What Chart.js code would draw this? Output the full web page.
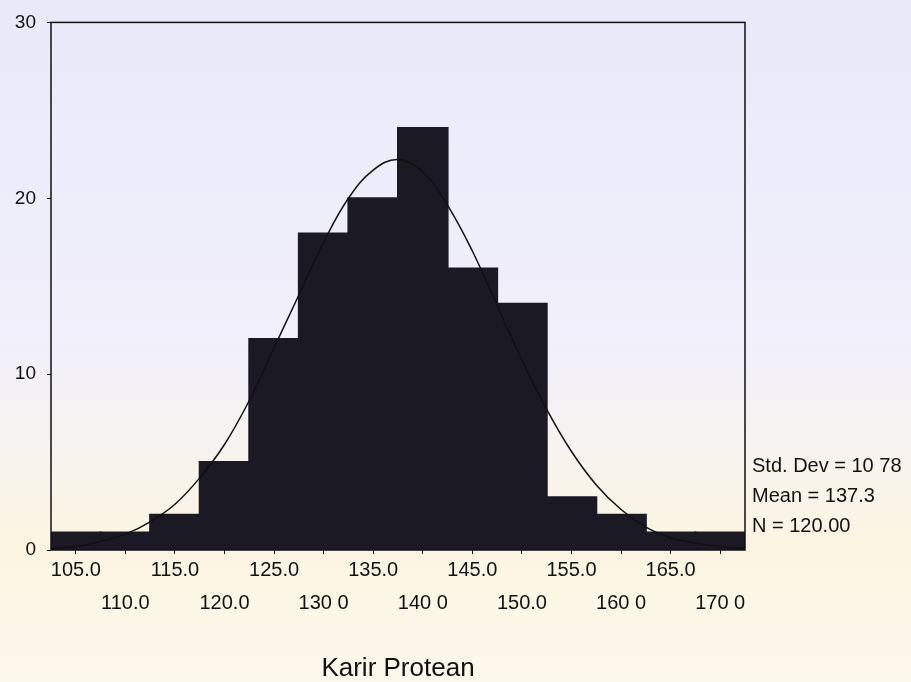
<!DOCTYPE html>
<html>
<head>
<meta charset="utf-8">
<script src="https://cdn.jsdelivr.net/npm/chart.js@4"></script>
<style>
  html, body { margin: 0; padding: 0; background: #fff; }
  #wrap { width: 911px; height: 682px; }
</style>
</head>
<body>
<div id="wrap"><canvas id="hist"></canvas></div>
<script>
// histogram bins (centre of each 5-wide bin) and counts
var binCenters = [105, 110, 115, 120, 125, 130, 135, 140, 145, 150, 155, 160, 165, 170];
var counts = [1, 1, 2, 5, 12, 18, 20, 24, 16, 14, 3, 2, 1, 1];
var tickLabels = ['105.0', '110.0', '115.0', '120.0', '125.0', '130 0', '135.0',
                  '140 0', '145.0', '150.0', '155.0', '160 0', '165.0', '170 0'];

// normal curve
var curveX = [102.5, 105, 107.5, 110, 112.5, 115, 117.5, 120, 122.5, 125, 127.5, 130, 132.5, 135,
              137.5, 140, 142.5, 145, 147.5, 150, 152.5, 155, 157.5, 160, 162.5, 165, 167.5, 170, 172.5];
var curveY = [0.1, 0.2, 0.5, 0.9, 1.6, 2.6, 4.1, 6.0, 8.5, 11.5, 14.5, 17.5, 20.0, 21.6,
              22.2, 21.5, 19.6, 17.0, 13.9, 10.8, 8.0, 5.6, 3.7, 2.3, 1.3, 0.7, 0.4, 0.2, 0.1];

var statLines = ['Std. Dev = 10 78', 'Mean = 137.3', 'N = 120.00'];
var xTitle = 'Karir Protean';

var barData = binCenters.map(function (x, i) { return { x: x, y: counts[i] }; });
var curveData = curveX.map(function (x, i) { return { x: x, y: curveY[i] }; });

var fontFam = '"Liberation Sans", Arial, sans-serif';

var spssFrame = {
  id: 'spssFrame',
  beforeDraw: function (chart) {
    var ctx = chart.ctx;
    var g = ctx.createLinearGradient(0, 0, 0, chart.height);
    g.addColorStop(0, '#e9e9f9');
    g.addColorStop(0.5, '#f1f0fb');
    g.addColorStop(0.8, '#fcf5e2');
    g.addColorStop(1, '#fdf8ec');
    ctx.save();
    ctx.fillStyle = g;
    ctx.fillRect(0, 0, chart.width, chart.height);
    ctx.restore();
  },
  afterDatasetsDraw: function (chart) {
    var ctx = chart.ctx, a = chart.chartArea;
    ctx.save();
    ctx.strokeStyle = '#111';
    ctx.lineWidth = 1.5;
    ctx.strokeRect(a.left, a.top, a.right - a.left, a.bottom - a.top);
    // stats block to the right of the frame
    ctx.fillStyle = '#111';
    ctx.font = '20px ' + fontFam;
    ctx.textBaseline = 'middle';
    ctx.textAlign = 'left';
    for (var i = 0; i < statLines.length; i++) {
      ctx.fillText(statLines[i], a.right + 7, a.bottom - 84 + i * 30);
    }
    ctx.restore();
  }
};

var chart = new Chart(document.getElementById('hist').getContext('2d'), {
  type: 'bar',
  data: {
    datasets: [
      {
        type: 'line',
        label: 'Normal',
        data: curveData,
        borderColor: '#111',
        borderWidth: 1.5,
        pointRadius: 0,
        tension: 0.4,
        fill: false,
        order: 0
      },
      {
        label: 'Karir Protean',
        data: barData,
        backgroundColor: '#1a1924',
        borderWidth: 0,
        inflateAmount: 1,
        barPercentage: 1.0,
        categoryPercentage: 1.0,
        order: 1
      }
    ]
  },
  options: {
    responsive: true,
    maintainAspectRatio: false,
    animation: false,
    layout: { padding: { left: 0, top: 20, right: 166, bottom: 0 } },
    plugins: {
      legend: { display: false },
      tooltip: { enabled: false }
    },
    scales: {
      x: {
        type: 'linear',
        offset: false,
        min: 102.5,
        max: 172.5,
        afterBuildTicks: function (scale) {
          scale.ticks = binCenters.map(function (v) { return { value: v }; });
        },
        afterFit: function (scale) { scale.height = 132; },
        grid: { drawOnChartArea: false, offset: false, tickLength: 4, color: '#111' },
        border: { display: false },
        ticks: {
          autoSkip: false,
          maxRotation: 0,
          padding: 0,
          color: '#111',
          font: { family: fontFam, size: 20, lineHeight: 1.65 },
          callback: function (value, index) {
            var i = binCenters.indexOf(value);
            if (i < 0) return '';
            return i % 2 === 0 ? [tickLabels[i], ''] : ['', tickLabels[i]];
          }
        },
        title: {
          display: true,
          text: xTitle,
          color: '#111',
          padding: { top: 0, bottom: 0 },
          font: { family: fontFam, size: 26, lineHeight: 1.05 }
        }
      },
      y: {
        min: 0,
        max: 30,
        afterFit: function (scale) { scale.width = 51; },
        grid: { drawOnChartArea: false, tickLength: 4, color: '#111' },
        border: { display: false },
        ticks: {
          stepSize: 10,
          padding: 11,
          color: '#111',
          font: { family: fontFam, size: 19 }
        }
      }
    }
  },
  plugins: [spssFrame]
});
</script>
</body>
</html>
